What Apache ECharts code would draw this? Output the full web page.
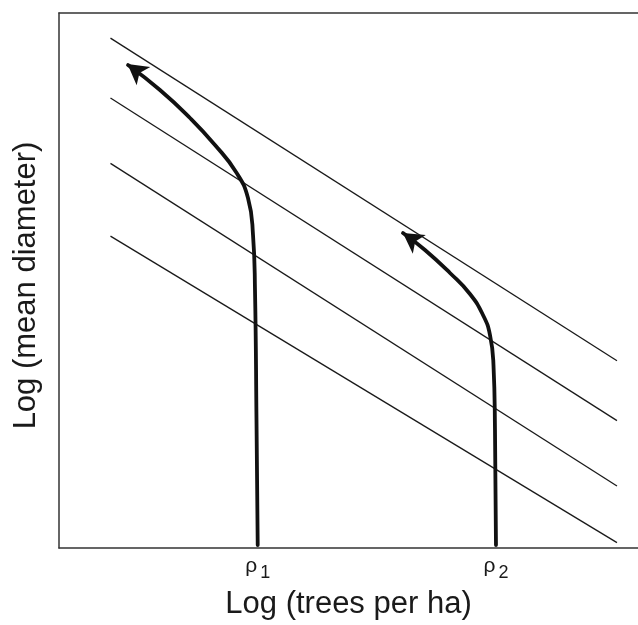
<!DOCTYPE html>
<html>
<head>
<meta charset="utf-8">
<script src="https://cdn.jsdelivr.net/npm/echarts@6/dist/echarts.min.js"></script>
<style>html,body{margin:0;padding:0;background:#fff}#c{width:638px;height:625px}</style>
</head>
<body>
<div id="c"></div>
<script>
// Self-thinning lines: [x, y] endpoints in log units
const lineStartX = 0.889;
const lineEndX = 9.637;
const lineStartY = [9.53, 8.41, 7.19, 5.83];
const lineEndY = [3.50, 2.38, 1.16, 0.10];

// Stand trajectories (log trees per ha, log mean diameter)
const rho1X = [3.432, 3.411, 3.385, 3.351, 3.264, 3.057, 2.694, 2.263, 1.744, 1.192];
const rho1Y = [0.056, 2.393, 4.822, 5.850, 6.542, 7.028, 7.533, 8.037, 8.561, 9.028];
const rho2X = [7.547, 7.530, 7.504, 7.444, 7.323, 7.098, 6.753, 6.321, 5.941];
const rho2Y = [0.056, 2.206, 3.421, 3.981, 4.355, 4.748, 5.140, 5.570, 5.888];

// Arrow heads at the end of each trajectory
const arrowX = [1.183, 5.940];
const arrowY = [9.045, 5.890];
const arrowAngle = [53, 55];

// Tick labels
const tickValues = [3.432, 7.547];
const tickLabels = ['ρ1', 'ρ2'];

const FONT = "'Liberation Sans', Arial, Helvetica, sans-serif";
const zip = (xs, ys) => xs.map((x, i) => [x, ys[i]]);

const series = [];
lineStartY.forEach((y0, i) => {
  series.push({
    type: 'line', data: [[lineStartX, y0], [lineEndX, lineEndY[i]]],
    showSymbol: false, silent: true,
    lineStyle: { color: '#1a1a1a', width: 1.3 }
  });
});
[[rho1X, rho1Y], [rho2X, rho2Y]].forEach(([xs, ys]) => {
  series.push({
    type: 'line', data: zip(xs, ys), smooth: 0.5,
    showSymbol: false, silent: true,
    lineStyle: { color: '#111', width: 3.8, cap: 'round' }
  });
});
series.push({
  type: 'scatter', silent: true,
  data: arrowX.map((x, i) => ({ value: [x, arrowY[i]], symbolRotate: arrowAngle[i] })),
  symbol: 'arrow', symbolSize: [17, 20],
  itemStyle: { color: '#111', opacity: 1 }
});

const chart = echarts.init(document.getElementById('c'), null, { renderer: 'canvas' });
chart.setOption({
  animation: false,
  backgroundColor: '#fff',
  grid: { left: 59, right: 0, top: 13, bottom: 77, containLabel: false },
  xAxis: [{
    type: 'value', min: 0, max: 10, position: 'bottom',
    name: 'Log (trees per ha)', nameLocation: 'middle', nameGap: 41,
    nameTextStyle: { fontFamily: FONT, fontSize: 31, color: '#1a1a1a' },
    axisLine: { show: true, lineStyle: { color: '#333', width: 1.5 } },
    axisTick: { show: false },
    splitLine: { show: false },
    axisLabel: {
      show: true, margin: 7,
      customValues: tickValues,
      formatter: (v) => {
        const i = tickValues.findIndex(t => Math.abs(t - v) < 1e-6);
        if (i < 0) return '';
        const s = tickLabels[i];
        return '{r|' + s[0] + '}{s|' + s.slice(1) + '}';
      },
      rich: {
        r: { fontFamily: FONT, fontSize: 21, color: '#1a1a1a', padding: [0, 3, 4, 0] },
        s: { fontFamily: FONT, fontSize: 18, color: '#1a1a1a', padding: [9, 0, 0, 0] }
      }
    }
  }, {
    type: 'value', min: 0, max: 10, position: 'top',
    axisLine: { show: true, lineStyle: { color: '#333', width: 1.5 } },
    axisTick: { show: false }, axisLabel: { show: false }, splitLine: { show: false }
  }],
  yAxis: {
    type: 'value', min: 0, max: 10,
    name: 'Log (mean diameter)', nameLocation: 'middle', nameGap: 17,
    nameTextStyle: { fontFamily: FONT, fontSize: 31, color: '#1a1a1a', padding: [0, 10, 0, 0] },
    axisLine: { show: true, lineStyle: { color: '#333', width: 1.5 } },
    axisTick: { show: false }, axisLabel: { show: false }, splitLine: { show: false }
  },
  series: series
});
</script>
</body>
</html>
